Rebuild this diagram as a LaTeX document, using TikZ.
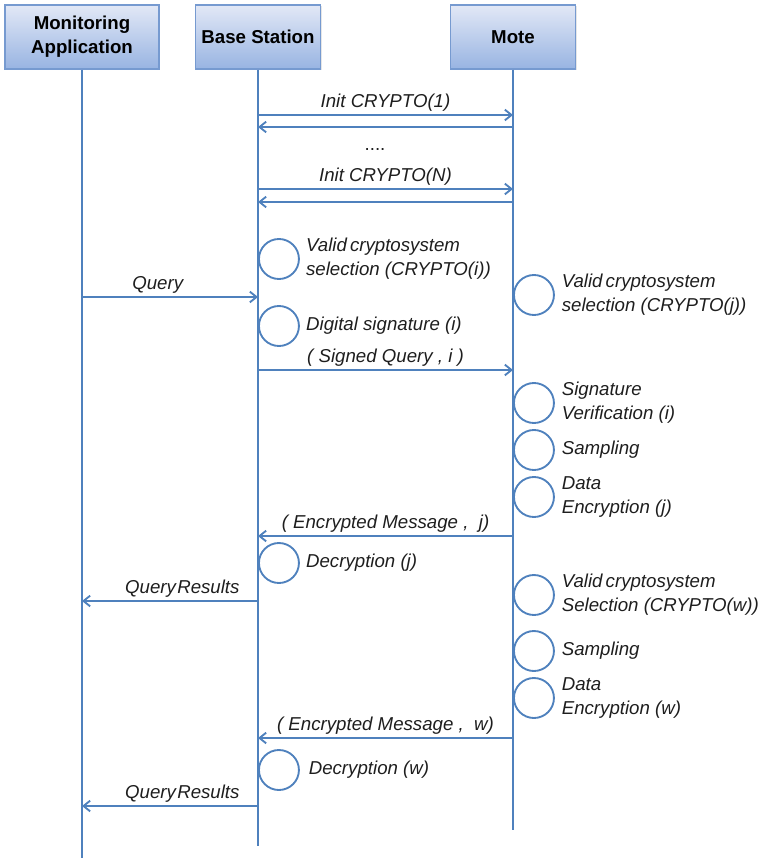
\documentclass[tikz,border=0pt]{standalone}
\usepackage{fontspec}
\setmainfont{Liberation Sans}
\usetikzlibrary{arrows.meta,positioning,shadows}
\definecolor{seqblue}{RGB}{79,129,189}
\definecolor{boxtop}{RGB}{226,232,246}
\definecolor{boxbot}{RGB}{152,180,226}
\definecolor{boxedge}{RGB}{118,154,208}
\definecolor{txtgray}{RGB}{30,30,30}

\begin{document}
\begin{tikzpicture}[
  x=0.75pt, y=-0.75pt,
  actor/.style={
    rectangle, draw=boxedge, line width=0.9pt,
    top color=boxtop, bottom color=boxbot,
    minimum height=48pt, align=center,
    font=\bfseries\fontsize{14}{18}\selectfont,
    drop shadow={opacity=0.2, shadow xshift=1pt, shadow yshift=-1pt}
  },
  lifeline/.style={seqblue, line width=2.2pt},
  msg/.style={-{Straight Barb[length=5pt,width=8pt]}, seqblue, line width=1.4pt},
  lbl/.style={above, inner sep=2pt, text=txtgray, font=\itshape\fontsize{14}{18}\selectfont},
  act/.style={circle, draw=seqblue, line width=1.4pt, minimum size=30pt, inner sep=0pt},
  note/.style={inner sep=0pt, align=left, text=txtgray, font=\itshape\fontsize{14}{18}\selectfont}
]
  \useasboundingbox (0,0) rectangle (761,859);

  % participants
  \node[actor, minimum width=115.5pt] (mon)  at (82,37)  {Monitoring\\Application};
  \node[actor, minimum width=93.75pt] (bs)   at (258,37) {Base Station};
  \node[actor, minimum width=93.75pt] (mote) at (513,37) {Mote};

  % lifelines
  \coordinate (mon-end)  at (mon |- 0,858);
  \coordinate (bs-end)   at (bs |- 0,846);
  \coordinate (mote-end) at (mote |- 0,830);
  \draw[lifeline] (mon.south)  -- (mon-end);
  \draw[lifeline] (bs.south)   -- (bs-end);
  \draw[lifeline] (mote.south) -- (mote-end);

  % one point per message row on each lifeline
  \foreach \n/\y in {c1/115, r1/127, cN/189, rN/202, q/297, sq/370,
                     emj/536, qrj/601, emw/738, qrw/806} {
    \coordinate (mon-\n)  at (mon |- 0,\y);
    \coordinate (bs-\n)   at (bs |- 0,\y);
    \coordinate (mote-\n) at (mote |- 0,\y);
  }

  % key set-up
  \draw[msg] (bs-c1) -- node[lbl] {Init CRYPTO(1)} (mote-c1);
  \draw[msg] (mote-r1) -- (bs-r1);
  \node[note, font=\fontsize{14}{18}\selectfont] (dots) at (375,150) {....};
  \draw[msg] (bs-cN) -- node[lbl] {Init CRYPTO(N)} (mote-cN);
  \draw[msg] (mote-rN) -- (bs-rN);

  % query
  \draw[msg] (mon-q) -- node[lbl, pos=0.43] {Query} (bs-q);
  \node[act, right=0pt] (sel-i) at (bs |- 0,259) {};
  \node[note, right=4.5pt of sel-i] {Valid\,cryptosystem\\selection (CRYPTO(i))};
  \node[act, right=0pt] (sel-j) at (mote |- 0,295) {};
  \node[note, right=5pt of sel-j] {Valid\,cryptosystem\\selection (CRYPTO(j))};
  \node[act, right=0pt] (sig-i) at (bs |- 0,326) {};
  \node[note, right=4.5pt of sig-i] {Digital signature (i)};
  \draw[msg] (bs-sq) -- node[lbl] {( Signed Query , i )} (mote-sq);

  % first reply
  \node[act, right=0pt] (ver-i) at (mote |- 0,403) {};
  \node[note, right=5pt of ver-i] {Signature\\Verification (i)};
  \node[act, right=0pt] (samp-j) at (mote |- 0,450) {};
  \node[note, right=5pt of samp-j] {Sampling};
  \node[act, right=0pt] (enc-j) at (mote |- 0,497) {};
  \node[note, right=5pt of enc-j] {Data\\Encryption (j)};
  \draw[msg] (mote-emj) -- node[lbl] {( Encrypted Message ,~~j)} (bs-emj);
  \node[act, right=0pt] (dec-j) at (bs |- 0,563) {};
  \node[note, right=4.5pt of dec-j] {Decryption (j)};
  \draw[msg] (bs-qrj) -- node[lbl, pos=0.43] {Query\kern1pt Results} (mon-qrj);

  % second reply
  \node[act, right=0pt] (sel-w) at (mote |- 0,595) {};
  \node[note, right=5pt of sel-w] {Valid\,cryptosystem\\Selection (CRYPTO(w))};
  \node[act, right=0pt] (samp-w) at (mote |- 0,651) {};
  \node[note, right=5pt of samp-w] {Sampling};
  \node[act, right=0pt] (enc-w) at (mote |- 0,698) {};
  \node[note, right=5pt of enc-w] {Data\\Encryption (w)};
  \draw[msg] (mote-emw) -- node[lbl] {( Encrypted Message ,~~w)} (bs-emw);
  \node[act, right=0pt] (dec-w) at (bs |- 0,770) {};
  \node[note, right=6.5pt of dec-w] {Decryption (w)};
  \draw[msg] (bs-qrw) -- node[lbl, pos=0.43] {Query\kern1pt Results} (mon-qrw);
\end{tikzpicture}
\end{document}
